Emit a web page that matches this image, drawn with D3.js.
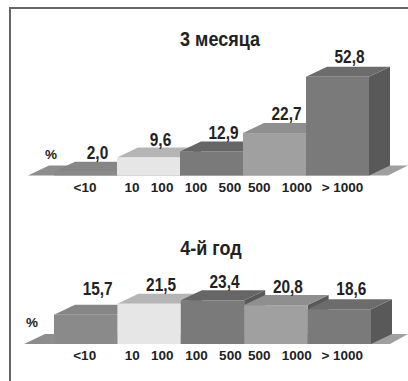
<!DOCTYPE html>
<html>
<head>
<meta charset="utf-8">
<script src="https://cdn.jsdelivr.net/npm/d3@7"></script>
<style>
    html, body { margin: 0; padding: 0; background: #fff; }
    text { font-family: "Liberation Sans", Arial, sans-serif; font-weight: bold; fill: #222; }
</style>
</head>
<body>
<div id="chart"></div>
<script>
// data
const categories = ["<10", "10   100", "100   500", "500   1000", "> 1000"];
const months3 = [2.0, 9.6, 12.9, 22.7, 52.8];
const year4 = [15.7, 21.5, 23.4, 20.8, 18.6];

// bar colours, one set per category
const frontColors = ["#8a8a8a", "#e6e6e6", "#7a7a7a", "#a0a0a0", "#7a7a7a"];
const topColors = ["#868686", "#b5b5b5", "#666666", "#8f8f8f", "#6c6c6c"];
const sideColor = "#595959";

const depthX = 21, depthY = 10;
const fmt = v => v.toFixed(1).replace(".", ",");
const line = d3.line();

const svg = d3.select("#chart").append("svg")
    .attr("width", 408)
    .attr("height", 381)
    .style("display", "block");

// floor is darker on the left, lighter on the right
let grad = svg.append("defs").append("linearGradient").attr("id", "floor");
grad.append("stop").attr("offset", "0%").attr("stop-color", "#8c8c8c");
grad.append("stop").attr("offset", "100%").attr("stop-color", "#a0a0a0");

// frame, open on the right and at the bottom
svg.append("path")
    .attr("d", "M408,8H10V381")
    .attr("fill", "none")
    .attr("stroke", "#666")
    .attr("stroke-width", 2);

function drawChart(cfg) {
    let g = svg.append("g");

    let x = d3.scaleBand().domain(categories).range(cfg.xRange);
    let y = d3.scaleLinear().domain([0, 60]).range([cfg.base, cfg.base - 112.2]);
    let x0 = cfg.xRange[0], x1 = cfg.xRange[1];

    // floor
    g.append("path")
        .attr("d", line([[cfg.floorLeft, y(0)], [cfg.floorLeft + depthX, y(0) - depthY], [408, y(0) - depthY], [x1 + 19, y(0)]]) + "Z")
        .attr("fill", "url(#floor)");

    // bars, left to right so the later ones cover the earlier sides
    cfg.values.forEach((v, i) => {
        let left = x(categories[i]), right = left + x.bandwidth(), top = y(v), bottom = y(0);

        g.append("path")
            .attr("d", line([[right, top], [right + depthX, top - depthY], [right + depthX, bottom - depthY], [right, bottom]]) + "Z")
            .attr("fill", sideColor);
        g.append("path")
            .attr("d", line([[left, top], [left + depthX, top - depthY], [right + depthX, top - depthY], [right, top]]) + "Z")
            .attr("fill", topColors[i]);
        g.append("rect")
            .attr("x", left)
            .attr("y", top)
            .attr("width", x.bandwidth())
            .attr("height", bottom - top)
            .attr("fill", frontColors[i]);
    });

    // value labels, squeezed to look like the condensed face of the original
    g.selectAll(".val").data(cfg.values).enter().append("text")
        .attr("class", "val")
        .attr("transform", (d, i) => {
            let px = x(categories[i]) + x.bandwidth() / 2 + 12;
            let py = y(d) - depthY - cfg.valueGap[i];
            return `translate(${px}, ${py}) scale(0.88, 1)`;
        })
        .attr("text-anchor", "middle")
        .attr("font-size", 17.5)
        .text(fmt);

    // category labels
    g.selectAll(".cat").data(categories).enter().append("text")
        .attr("class", "cat")
        .attr("x", (d, i) => x(d) + x.bandwidth() / 2 + cfg.catNudge[i])
        .attr("y", cfg.base + 16)
        .attr("text-anchor", "middle")
        .attr("font-size", 13.5)
        .style("white-space", "pre")
        .text(d => d);

    g.append("text")
        .attr("x", cfg.percentPos[0])
        .attr("y", cfg.percentPos[1])
        .attr("text-anchor", "middle")
        .attr("font-size", 13.5)
        .text("%");

    g.append("text")
        .attr("transform", `translate(${cfg.titlePos[0]}, ${cfg.titlePos[1]}) scale(0.9, 1)`)
        .attr("text-anchor", "middle")
        .attr("font-size", 20)
        .text(cfg.title);
}

drawChart({
    title: "3 месяца",
    values: months3,
    xRange: [54, 369],
    base: 175.5,
    floorLeft: 28,
    valueGap: [3, 1.5, 2, 3, 4],
    catNudge: [-0.5, 0.5, 1.5, 5.5, 5],
    percentPos: [51, 159],
    titlePos: [220, 46]
});

drawChart({
    title: "4-й год",
    values: year4,
    xRange: [54, 371],
    base: 344,
    floorLeft: 24,
    valueGap: [10, 3, 2, 2, 4],
    catNudge: [-1, 0, 1, 4, 3],
    percentPos: [32, 327],
    titlePos: [211, 255]
});
</script>
</body>
</html>
